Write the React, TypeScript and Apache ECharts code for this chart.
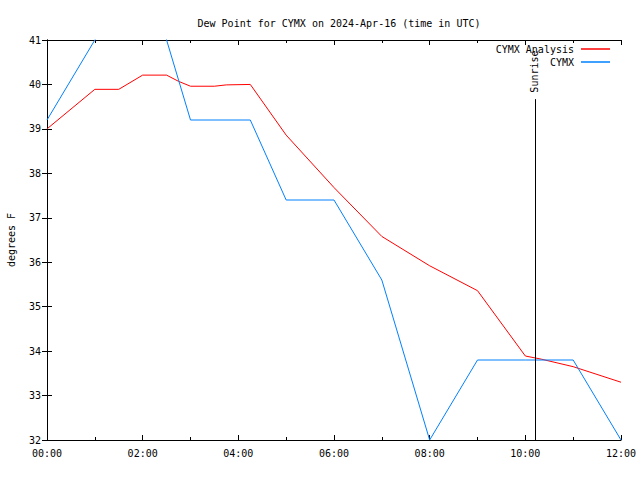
import React, { useEffect, useRef } from "react";
import * as echarts from "echarts";

const titleText = "Dew Point for CYMX on 2024-Apr-16 (time in UTC)";
const yAxisName = "degrees F";
const analysisName = "CYMX Analysis";
const obsName = "CYMX";

// hours since 00:00 UTC
const analysisHours = [0, 1, 1.5, 2, 2.5, 2.75, 3, 3.5, 3.75, 4.25, 5, 6, 7, 8, 9, 10, 10.33, 11, 12];
const analysisValues = [39.0, 39.89, 39.89, 40.21, 40.21, 40.07, 39.96, 39.96, 39.99, 40.0, 38.86, 37.68, 36.58, 35.92, 35.36, 33.89, 33.82, 33.65, 33.3];

const obsHours = [0, 1, 2, 3, 4.25, 5, 6, 7, 8, 9, 10, 11, 12];
const obsValues = [39.2, 41.0, 42.8, 39.2, 39.2, 37.4, 37.4, 35.6, 32.0, 33.8, 33.8, 33.8, 32.0];

const sunriseHour = 10.2;
const sunriseLabel = "Sunrise";
const sunriseTop = 39.67;

const xMin = 0;
const xMax = 12;
const yMin = 32;
const yMax = 41;

const FONT = "DejaVu Sans Mono";

const fmtHour = (v: number) => {
  const h = Math.floor(v);
  return (h < 10 ? "0" + h : "" + h) + ":00";
};

export default function App() {
  const ref = useRef<HTMLDivElement>(null);

  useEffect(() => {
    if (!ref.current) return;
    const chart = echarts.init(ref.current, undefined, { renderer: "svg" });

    const analysisData = analysisHours.map((h, i) => [h, analysisValues[i]]);
    const obsData = obsHours.map((h, i) => [h, obsValues[i]]);

    const axisLine = { show: true, lineStyle: { color: "#000", width: 1 } };
    const textStyle = { fontFamily: FONT, fontSize: 10, color: "#000" };

    chart.setOption({
      animation: false,
      backgroundColor: "#fff",
      title: {
        text: titleText,
        left: 334,
        top: 13,
        textAlign: "center",
        textStyle: { ...textStyle, fontWeight: "normal" },
      },
      grid: {
        left: 47,
        right: 19,
        top: 40,
        bottom: 40,
        containLabel: false,
        outerBoundsMode: "none",
      },
      legend: [
        {
          data: [analysisName],
          right: 30,
          top: 44,
          align: "right",
          icon: "rect",
          itemWidth: 29,
          itemHeight: 1.5,
          selectedMode: false,
          textStyle: { ...textStyle, padding: [0, 2, 0, 0] },
          padding: 0,
        },
        {
          data: [obsName],
          right: 30,
          top: 57,
          align: "right",
          icon: "rect",
          itemWidth: 29,
          itemHeight: 1.5,
          selectedMode: false,
          textStyle: { ...textStyle, padding: [0, 2, 0, 0] },
          padding: 0,
        },
      ],
      xAxis: [
        {
          type: "value",
          min: xMin,
          max: xMax,
          interval: 2,
          position: "bottom",
          axisLine,
          axisTick: { show: true, inside: true, length: 5, lineStyle: { color: "#000" } },
          minorTick: { show: true, splitNumber: 2, length: 3, lineStyle: { color: "#000" } },
          splitLine: { show: false },
          axisLabel: { ...textStyle, margin: 8, formatter: (v: number) => fmtHour(v) },
        },
        {
          type: "value",
          min: xMin,
          max: xMax,
          interval: 2,
          position: "top",
          axisLine,
          axisTick: { show: true, inside: true, length: 5, lineStyle: { color: "#000" } },
          minorTick: { show: true, splitNumber: 2, length: 3, lineStyle: { color: "#000" } },
          splitLine: { show: false },
          axisLabel: { show: false },
        },
      ],
      yAxis: [
        {
          type: "value",
          min: yMin,
          max: yMax,
          interval: 1,
          position: "left",
          name: yAxisName,
          nameLocation: "middle",
          nameGap: 31,
          nameRotate: 90,
          nameTextStyle: textStyle,
          axisLine,
          axisTick: { show: true, inside: true, length: 5, lineStyle: { color: "#000" } },
          splitLine: { show: false },
          axisLabel: { ...textStyle, margin: 6 },
        },
        {
          type: "value",
          min: yMin,
          max: yMax,
          interval: 1,
          position: "right",
          axisLine,
          axisTick: { show: true, inside: true, length: 5, lineStyle: { color: "#000" } },
          splitLine: { show: false },
          axisLabel: { show: false },
        },
      ],
      series: [
        {
          name: analysisName,
          type: "line",
          data: analysisData,
          xAxisIndex: 0,
          yAxisIndex: 0,
          showSymbol: false,
          symbol: "none",
          clip: true,
          itemStyle: { color: "#ff0000" },
          lineStyle: { color: "#ff0000", width: 1 },
          markLine: {
            silent: true,
            symbol: ["none", "none"],
            label: { show: false },
            lineStyle: { color: "#000", width: 1, type: "solid" },
            data: [
              [
                { coord: [sunriseHour, yMin] },
                { coord: [sunriseHour, sunriseTop] },
              ],
            ],
          },
          markPoint: {
            silent: true,
            symbol: "rect",
            symbolSize: 1,
            itemStyle: { color: "rgba(0,0,0,0)" },
            data: [
              {
                coord: [sunriseHour, 40.29],
                label: {
                  show: true,
                  formatter: sunriseLabel,
                  rotate: 90,
                  position: "inside",
                  ...textStyle,
                },
              },
            ],
          },
        },
        {
          name: obsName,
          type: "line",
          data: obsData,
          xAxisIndex: 0,
          yAxisIndex: 0,
          showSymbol: false,
          symbol: "none",
          clip: true,
          itemStyle: { color: "#0080ff" },
          lineStyle: { color: "#0080ff", width: 1 },
        },
      ],
    });

    return () => {
      chart.dispose();
    };
  }, []);

  return <div ref={ref} style={{ width: 640, height: 480, position: "absolute", left: 0, top: 0 }} />;
}
